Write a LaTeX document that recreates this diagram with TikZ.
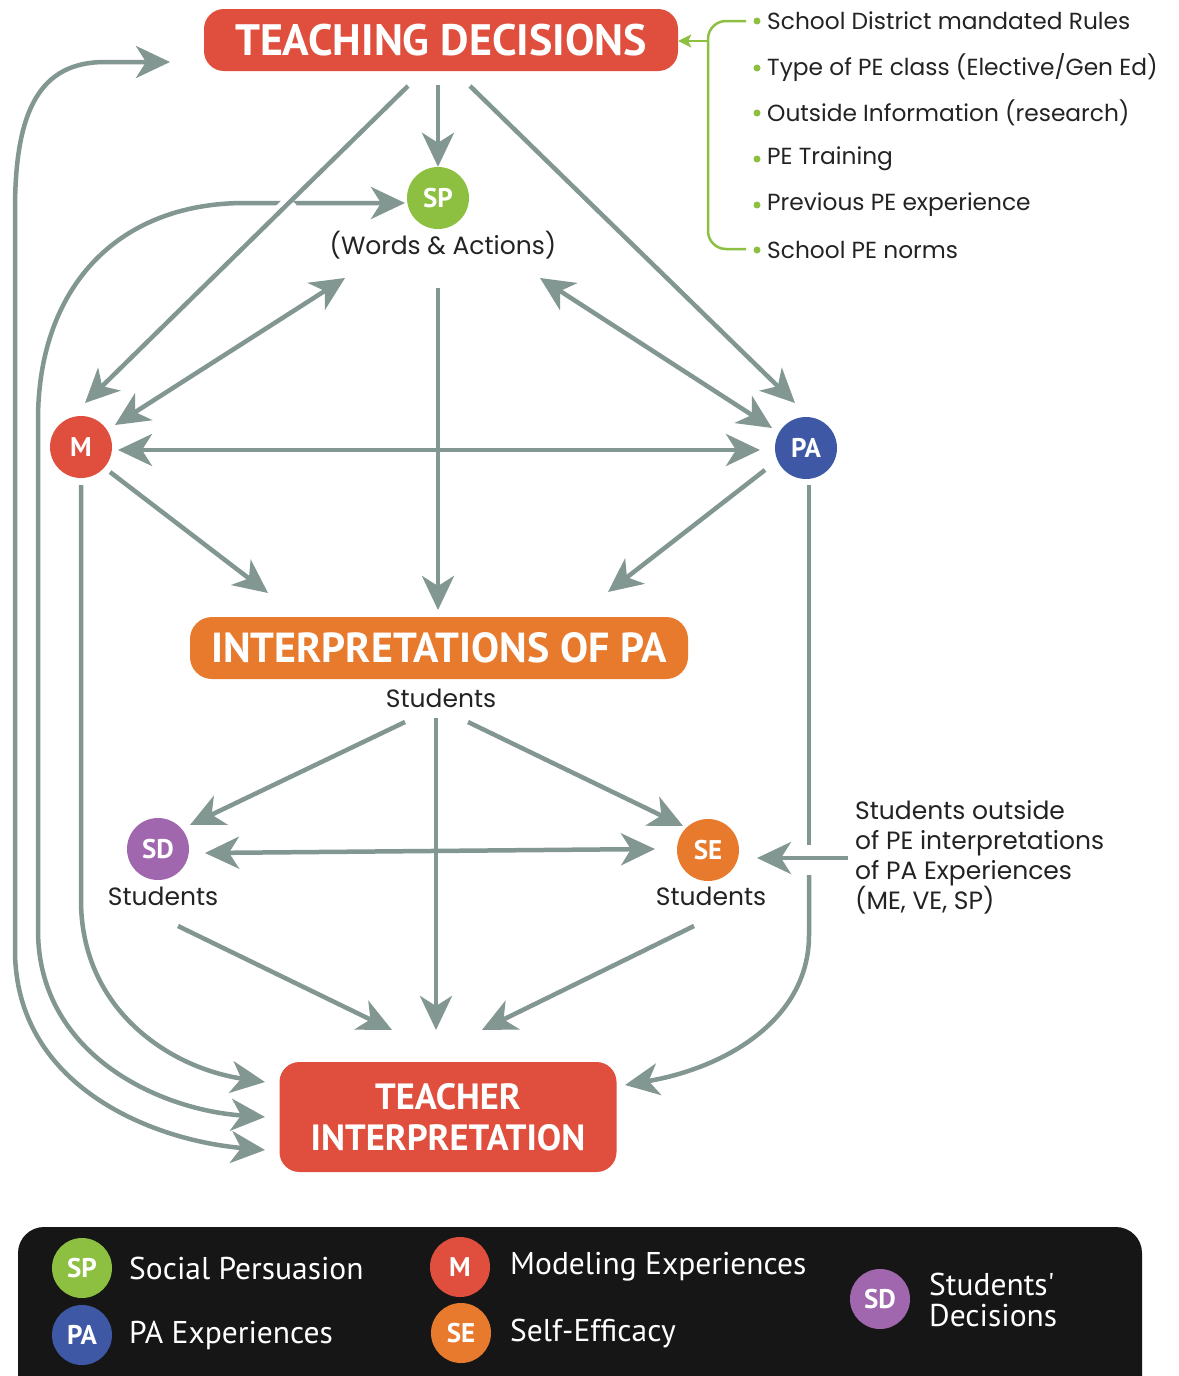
\documentclass[tikz,border=0pt]{standalone}
\usepackage{fontspec}
\setmainfont{Poppins}
\newfontfamily\ptsans{PT Sans}
\usetikzlibrary{arrows.meta,calc}
\definecolor{gc}{RGB}{130,150,146}
\definecolor{redc}{RGB}{224,78,62}
\definecolor{orangec}{RGB}{232,122,46}
\definecolor{greenc}{RGB}{141,192,64}
\definecolor{bluec}{RGB}{62,88,166}
\definecolor{purplec}{RGB}{160,102,174}
\definecolor{txt}{RGB}{35,35,35}
\definecolor{legbg}{RGB}{22,22,22}
\tikzset{
 tipG/.tip={Stealth[length=34pt,width=32pt,inset=10pt]},
 arr/.style={draw=gc, line width=4.5pt, -tipG},
 darr/.style={draw=gc, line width=4.5pt, tipG-tipG},
 plain/.style={draw=gc, line width=4.5pt},
 circ/.style={circle, minimum size=62pt, inner sep=0pt, text=white, font=\ptsans\bfseries\fontsize{27}{27}\selectfont},
 bigbox/.style={rounded corners=20pt, text=white, inner sep=0pt, align=center},
 lbl/.style={text=txt, font=\fontsize{25}{30}\selectfont, inner sep=0pt},
 legtxt/.style={text=white, font=\ptsans\fontsize{31.5}{31}\selectfont, anchor=west, inner sep=0pt, align=left},
 bultxt/.style={text=txt, font=\fontsize{23.3}{26}\selectfont, anchor=west, inner sep=0pt},
 bulldot/.style={circle, fill=greenc, inner sep=0pt, minimum size=7pt},
 gline/.style={draw=greenc, line width=2.5pt}
}
\begin{document}
\begin{tikzpicture}[x=1pt,y=-1pt]
\useasboundingbox[fill=white] (0,0) rectangle (1178,1376);

% ---------- main nodes ----------
\node[bigbox, fill=redc, minimum width=474pt, minimum height=62pt,
      font=\ptsans\bfseries\fontsize{44}{44}\selectfont] (TD) at (441,40) {TEACHING DECISIONS};
\node[circ, fill=greenc] (SP) at (438,198) {SP};
\node[lbl] (SPlab) at (443,245) {(Words \& Actions)};
\node[circ, fill=redc] (M) at (81,447) {M};
\node[circ, fill=bluec] (PA) at (806,448) {PA};
\node[bigbox, fill=orangec, minimum width=498pt, minimum height=62pt, rounded corners=22pt,
      font=\ptsans\bfseries\fontsize{42}{42}\selectfont] (IPA) at (439,648) {INTERPRETATIONS OF PA};
\node[lbl] (IPAlab) at (441,698) {Students};
\node[circ, fill=purplec] (SD) at (158,849) {SD};
\node[lbl] (SDlab) at (163,896) {Students};
\node[circ, fill=orangec] (SE) at (708,850) {SE};
\node[lbl] (SElab) at (711,896) {Students};
\node[bigbox, fill=redc, minimum width=337pt, minimum height=110pt,
      font=\ptsans\bfseries\fontsize{36.5}{41}\selectfont] (TI) at (448,1117) {TEACHER\\INTERPRETATION};
\node[lbl, anchor=west, align=left] (OUT) at (855,857)
  {Students outside\\of PE interpretations\\of PA Experiences\\(ME, VE, SP)};

% ---------- bullet list ----------
\node[bulldot] (D1) at (757,21) {};  \node[bultxt] (B1) at (767,21) {School District mandated Rules};
\node[bulldot] (D2) at (757,68) {};  \node[bultxt] (B2) at (767,68) {Type of PE class (Elective/Gen Ed)};
\node[bulldot] (D3) at (757,113) {}; \node[bultxt] (B3) at (767,113) {Outside Information (research)};
\node[bulldot] (D4) at (757,159) {}; \node[bultxt] (B4) at (767,159) {PE Training};
\node[bulldot] (D5) at (757,205) {}; \node[bultxt] (B5) at (767,205) {Previous PE experience};
\node[bulldot] (D6) at (757,250) {}; \node[bultxt] (B6) at (767,250) {School PE norms};
\coordinate (brT) at (746,21);
\coordinate (brB) at (746,249);
\coordinate (brA) at (708,41);
\draw[gline] (brT) -- (726,21) arc[start angle=90,end angle=180,radius=18pt] -- (708,231)
   arc[start angle=180,end angle=270,radius=18pt] -- (brB);
\draw[gline, -{Stealth[length=13pt,width=13pt,inset=3pt]}] (brA) -- (TD.east |- brA);

% ---------- connector coordinates ----------
\coordinate (tdsp) at (438,85);
\coordinate (tdm) at (408,86);   \coordinate (mtd) at (85,403);
\coordinate (tdpa) at (470,86);  \coordinate (patd) at (795,403);
\coordinate (spm) at (345,278);  \coordinate (msp) at (115,425);
\coordinate (sppa) at (540,278); \coordinate (pasp) at (772,428);
\coordinate (mpa) at (118,450);  \coordinate (pam) at (760,450);
\coordinate (spipa) at (438,288); \coordinate (ipasp) at (438,610);
\coordinate (mipa) at (110,472); \coordinate (ipam) at (268,593);
\coordinate (paipa) at (765,470); \coordinate (ipapa) at (608,592);
\coordinate (ipasd) at (405,722); \coordinate (sdipa) at (190,825);
\coordinate (ipase) at (468,722); \coordinate (seipa) at (683,826);
\coordinate (ipati) at (436,718); \coordinate (tiipa) at (436,1030);
\coordinate (sdse) at (205,853);  \coordinate (sesd) at (655,849);
\coordinate (sdti) at (178,926);  \coordinate (tisd) at (392,1030);
\coordinate (seti) at (694,926);  \coordinate (tise) at (482,1030);
\coordinate (pati) at (809,485);  \coordinate (tipa) at (625,1085);
\coordinate (outse) at (848,858); \coordinate (seout) at (757,858);
\coordinate (mti) at (81,485);    \coordinate (tim) at (265,1082);
\coordinate (sptiA) at (405,203); \coordinate (tispB) at (265,1117);
\coordinate (tdtiA) at (170,62);  \coordinate (titdB) at (265,1150);

% ---------- long loops on the left ----------
\draw[darr] (tdtiA) -- (105,62) .. controls (40,62) and (15,110) .. (15,210) -- (15,950)
   .. controls (15,1085) and (150,1140) .. (titdB);
\draw[darr] (sptiA) -- (245,203) .. controls (115,203) and (38,290) .. (38,420) -- (38,930)
   .. controls (38,1055) and (160,1110) .. (tispB);
\draw[arr] (mti) -- (81,900) .. controls (81,1010) and (170,1068) .. (tim);

% ---------- top arrows ----------
\draw[arr] (tdsp) -- (SP.north);
\draw[white, line width=14pt] ($(tdm)!0.36!(mtd)$) -- ($(tdm)!0.42!(mtd)$);
\draw[arr] (tdm) -- (mtd);
\draw[arr] (tdpa) -- (patd);
\draw[darr] (spm) -- (msp);
\draw[darr] (sppa) -- (pasp);
\draw[darr] (mpa) -- (pam);
\draw[arr] (spipa) -- (ipasp);
\draw[arr] (mipa) -- (ipam);
\draw[arr] (paipa) -- (ipapa);

% ---------- lower arrows ----------
\draw[arr] (ipasd) -- (sdipa);
\draw[arr] (ipase) -- (seipa);
\draw[arr] (ipati) -- (tiipa);
\draw[darr] (sdse) -- (sesd);
\draw[arr] (sdti) -- (tisd);
\draw[arr] (seti) -- (tise);
\draw[plain] (pati) -- (809,845);
\draw[arr] (809,875) -- (809,935) .. controls (809,1020) and (725,1068) .. (tipa);
\draw[arr] (outse) -- (seout);

% ---------- legend ----------
\fill[legbg, rounded corners=26pt] (18,1227) rectangle (1142,1430);
\node[circ, fill=greenc, minimum size=60pt] (LSP) at (82,1268) {SP};
\node[legtxt] (LSPt) at (129,1268) {Social Persuasion};
\node[circ, fill=bluec, minimum size=60pt] (LPA) at (82,1335) {PA};
\node[legtxt] (LPAt) at (129,1335) {PA Experiences};
\node[circ, fill=redc, minimum size=60pt] (LM) at (460,1267) {M};
\node[legtxt] (LMt) at (510,1267) {Modeling Experiences};
\node[circ, fill=orangec, minimum size=60pt] (LSE) at (461,1333) {SE};
\node[legtxt] (LSEt) at (510,1333) {Self-Efficacy};
\node[circ, fill=purplec, minimum size=60pt] (LSD) at (880,1299) {SD};
\node[legtxt] (LSDt) at (929,1300) {Students'\\Decisions};
\end{tikzpicture}
\end{document}
